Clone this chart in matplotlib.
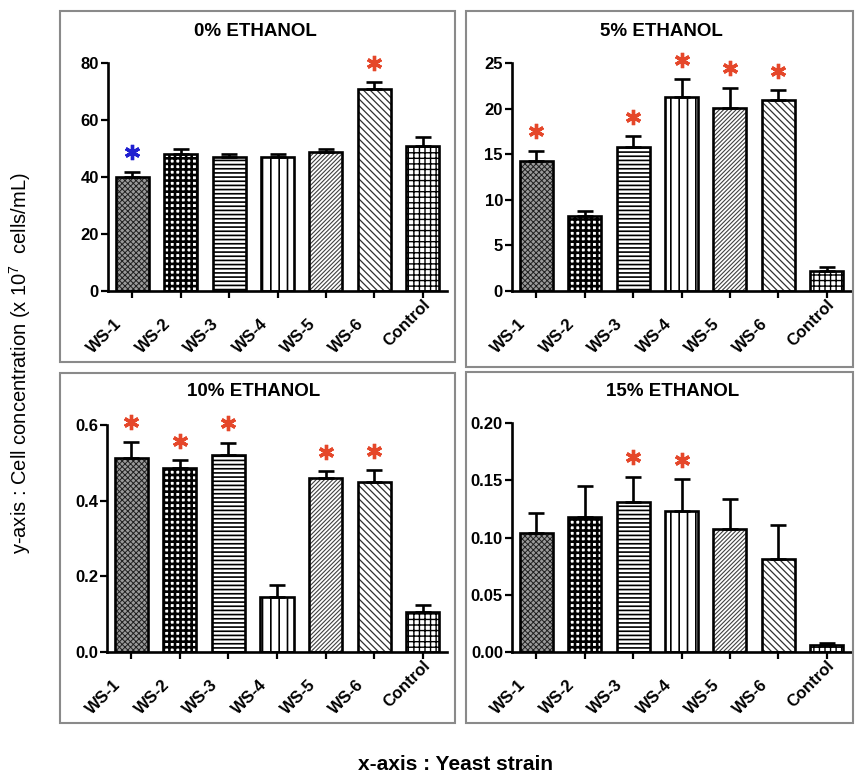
import matplotlib
matplotlib.use("Agg")
import matplotlib.pyplot as plt
import numpy as np
from matplotlib.patches import Rectangle
from matplotlib.transforms import ScaledTranslation, offset_copy

plt.rcParams['font.family'] = ['Liberation Sans', 'DejaVu Sans']

strains = ["WS-1", "WS-2", "WS-3", "WS-4", "WS-5", "WS-6", "Control"]

titles = ["0% ETHANOL", "5% ETHANOL", "10% ETHANOL", "15% ETHANOL"]

vals_0 = [40.0, 48.1, 47.0, 47.0, 48.7, 71.0, 50.9]
err_0 = [1.8, 1.8, 1.0, 1.1, 1.3, 2.2, 3.0]
sig_0 = ["b", "", "", "", "", "r", ""]

vals_5 = [14.3, 8.2, 15.8, 21.3, 20.1, 20.9, 2.2]
err_5 = [1.1, 0.6, 1.2, 1.9, 2.2, 1.1, 0.4]
sig_5 = ["r", "", "r", "r", "r", "r", ""]

vals_10 = [0.512, 0.487, 0.521, 0.146, 0.459, 0.450, 0.106]
err_10 = [0.044, 0.020, 0.032, 0.031, 0.019, 0.031, 0.019]
sig_10 = ["r", "r", "r", "", "r", "r", ""]

vals_15 = [0.104, 0.118, 0.131, 0.123, 0.107, 0.081, 0.006]
err_15 = [0.017, 0.027, 0.022, 0.028, 0.027, 0.030, 0.002]
sig_15 = ["", "", "r", "r", "", "", ""]

yticks_0 = [0, 20, 40, 60, 80]
yticks_5 = [0, 5, 10, 15, 20, 25]
yticks_10 = [0.0, 0.2, 0.4, 0.6]
yticks_15 = [0.00, 0.05, 0.10, 0.15, 0.20]
yfmt = ["{:.0f}", "{:.0f}", "{:.1f}", "{:.2f}"]

ylabel = "y-axis : Cell concentration (x 10$^{\\mathregular{7}}$  cells/mL)"
xlabel = "x-axis : Yeast strain"

# fill styles per strain: (facecolor, hatch, hatchcolor, hatch linewidth)
styles = [
    ("#9a9a9a", "xxxxxx", "#202020", 0.7),
    ("#ffffff", "+++", "#000000", 1.9),
    ("#ffffff", "----", "#000000", 1.2),
    ("#ffffff", "||", "#000000", 1.2),
    ("#ffffff", "////////", "#404040", 0.8),
    ("#ffffff", "\\\\\\\\\\", "#303030", 0.9),
    ("#ffffff", "+++", "#000000", 1.0),
]

W, H = 856, 772
fig = plt.figure(figsize=(W / 100, H / 100), dpi=100)

def fx(px):
    return px / W

def fy(py):
    return 1 - py / H

# panel frames (pixel boxes: left, top, right, bottom)
frames = [(60, 11, 455, 362), (466, 11, 853, 367), (60, 373, 455, 723), (466, 372, 853, 723)]
for (l, t, r, b) in frames:
    fig.patches.append(Rectangle((fx(l), fy(b)), fx(r - l), (b - t) / H, transform=fig.transFigure,
                                 fill=False, edgecolor="#8a8a8a", linewidth=1.5))

# axes boxes (pixels)
axboxes = [(108, 63, 447, 291), (512, 63, 851, 291), (107, 425, 447, 652), (512, 423, 851, 652)]
title_pos = [(255, 31), (661, 31), (254, 391), (673, 391)]

data = [(vals_0, err_0, sig_0, yticks_0), (vals_5, err_5, sig_5, yticks_5),
        (vals_10, err_10, sig_10, yticks_10), (vals_15, err_15, sig_15, yticks_15)]

x = np.arange(len(strains))
bw = 0.68
for i, ((l, t, r, b), (vals, errs, sigs, yt)) in enumerate(zip(axboxes, data)):
    ax = fig.add_axes([fx(l), fy(b), fx(r - l), (b - t) / H])
    for j in range(len(strains)):
        fc, hatch, hc, hlw = styles[j]
        with plt.rc_context({"hatch.linewidth": hlw}):
            p = ax.bar(x[j], vals[j], width=bw, color=fc, edgecolor=hc, hatch=hatch, linewidth=0, zorder=2)
            for patch in p:
                try:
                    patch.set_hatch_linewidth(hlw)
                except Exception:
                    pass
        ax.bar(x[j], vals[j], width=bw, fill=False, edgecolor="black", linewidth=1.9, zorder=3)
    ax.errorbar(x, vals, yerr=[np.zeros(len(vals)), errs], fmt="none", ecolor="black",
                elinewidth=1.9, capsize=6, capthick=1.9, zorder=4)
    tr = offset_copy(ax.transData, fig=fig, y=14, units="points")
    for j, s in enumerate(sigs):
        if s:
            col = "#e5472a" if s == "r" else "#1f1fd0"
            ax.plot(x[j], vals[j] + errs[j], marker=(6, 2, 0), ms=11, mec=col, mew=2.4,
                    transform=tr, clip_on=False, zorder=5)
    ax.set_xlim(-0.5, 6.5)
    ax.set_ylim(yt[0], yt[-1])
    ax.set_yticks(yt)
    ax.set_yticklabels([yfmt[i].format(v) for v in yt])
    ax.set_xticks(x)
    ax.set_xticklabels(strains, rotation=45, ha="right", va="top", rotation_mode="anchor")
    for sp in ["top", "right"]:
        ax.spines[sp].set_visible(False)
    for sp in ["left", "bottom"]:
        ax.spines[sp].set_linewidth(1.9)
    ax.tick_params(axis="both", width=1.6, length=5, labelsize=12, direction="out")
    ax.tick_params(axis="y", pad=1.5)
    ax.tick_params(axis="x", pad=13)
    for lab in ax.get_yticklabels():
        lab.set_fontweight("bold")
    for k, lab in enumerate(ax.get_xticklabels()):
        lab.set_fontweight("bold")
        if strains[k] == "Control":
            dx, dy = 0, 19
        else:
            dx, dy = -18, 0
        lab.set_transform(lab.get_transform() + ScaledTranslation(dx / 100, dy / 100, fig.dpi_scale_trans))
    tx, ty = title_pos[i]
    fig.text(fx(tx), fy(ty), titles[i], ha="center", va="center", fontsize=13.5, fontweight="bold")

fig.text(fx(20), fy(363), ylabel, rotation=90, ha="center", va="center", fontsize=14.5)
fig.text(fx(456), fy(764), xlabel, ha="center", va="center", fontsize=15, fontweight="bold")

fig.savefig("out.png", dpi=100)
